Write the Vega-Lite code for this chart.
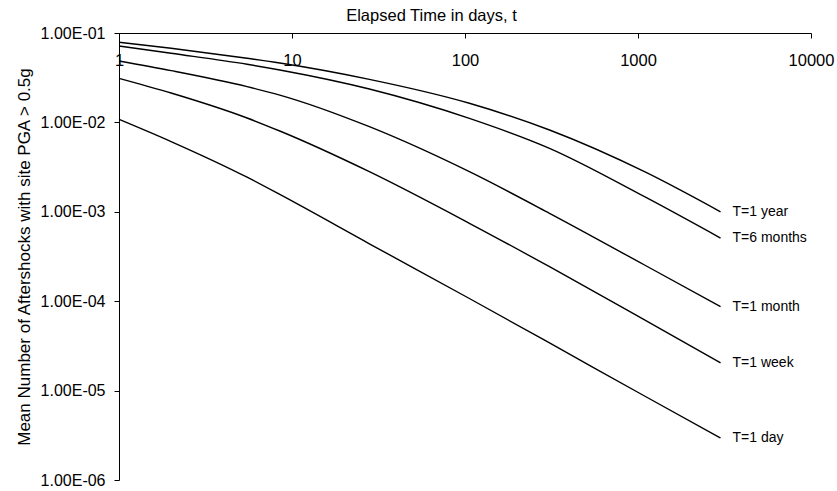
{
  "$schema": "https://vega.github.io/schema/vega-lite/v6.json",
  "width": 692,
  "height": 447,
  "autosize": "none",
  "padding": {"left": 119, "top": 33, "right": 26, "bottom": 11},
  "background": "white",
  "config": {
    "view": {"stroke": null},
    "font": "Liberation Sans",
    "axis": {
      "grid": false,
      "domainColor": "#000000",
      "tickColor": "#000000",
      "labelColor": "#000000",
      "titleColor": "#000000",
      "labelFont": "Liberation Sans",
      "titleFont": "Liberation Sans",
      "titleFontWeight": "normal",
      "domainWidth": 1,
      "tickWidth": 1
    }
  },
  "data": {
    "values": [
      {"series": "T=1 year", "t": 1, "n": 0.0787},
      {"series": "T=1 year", "t": 2, "n": 0.0674},
      {"series": "T=1 year", "t": 5.5, "n": 0.0521},
      {"series": "T=1 year", "t": 8.5, "n": 0.04617},
      {"series": "T=1 year", "t": 28, "n": 0.0303},
      {"series": "T=1 year", "t": 106, "n": 0.01637},
      {"series": "T=1 year", "t": 308, "n": 0.00822},
      {"series": "T=1 year", "t": 1091, "n": 0.00281},
      {"series": "T=1 year", "t": 3000, "n": 0.001},

      {"series": "T=6 months", "t": 1, "n": 0.0716},
      {"series": "T=6 months", "t": 2, "n": 0.0593},
      {"series": "T=6 months", "t": 5.5, "n": 0.0447},
      {"series": "T=6 months", "t": 8.5, "n": 0.0386},
      {"series": "T=6 months", "t": 28, "n": 0.02364},
      {"series": "T=6 months", "t": 106, "n": 0.0111},
      {"series": "T=6 months", "t": 308, "n": 0.00513},
      {"series": "T=6 months", "t": 1091, "n": 0.001476},
      {"series": "T=6 months", "t": 3000, "n": 0.000509},

      {"series": "T=1 month", "t": 1, "n": 0.0486},
      {"series": "T=1 month", "t": 2, "n": 0.0379},
      {"series": "T=1 month", "t": 5.5, "n": 0.0251},
      {"series": "T=1 month", "t": 8.5, "n": 0.0202},
      {"series": "T=1 month", "t": 28, "n": 0.00895},
      {"series": "T=1 month", "t": 106, "n": 0.00281},
      {"series": "T=1 month", "t": 308, "n": 0.000962},
      {"series": "T=1 month", "t": 1091, "n": 0.000254},
      {"series": "T=1 month", "t": 3000, "n": 0.0000868},

      {"series": "T=1 week", "t": 1, "n": 0.0311},
      {"series": "T=1 week", "t": 2, "n": 0.02132},
      {"series": "T=1 week", "t": 5.5, "n": 0.0112},
      {"series": "T=1 week", "t": 8.5, "n": 0.00801},
      {"series": "T=1 week", "t": 28, "n": 0.00281},
      {"series": "T=1 week", "t": 106, "n": 0.000744},
      {"series": "T=1 week", "t": 308, "n": 0.000243},
      {"series": "T=1 week", "t": 1091, "n": 0.0000617},
      {"series": "T=1 week", "t": 3000, "n": 0.0000204},

      {"series": "T=1 day", "t": 1, "n": 0.01083},
      {"series": "T=1 day", "t": 2, "n": 0.00611},
      {"series": "T=1 day", "t": 5.5, "n": 0.002438},
      {"series": "T=1 day", "t": 8.5, "n": 0.001562},
      {"series": "T=1 day", "t": 28, "n": 0.000439},
      {"series": "T=1 day", "t": 106, "n": 0.0001072},
      {"series": "T=1 day", "t": 308, "n": 0.0000341},
      {"series": "T=1 day", "t": 1091, "n": 0.0000087},
      {"series": "T=1 day", "t": 3000, "n": 0.00000295}
    ]
  },
  "encoding": {
    "x": {
      "field": "t",
      "type": "quantitative",
      "scale": {"type": "log", "domain": [1, 10000], "nice": false},
      "axis": {
        "orient": "top",
        "title": "Elapsed Time in days, t",
        "values": [1, 10, 100, 1000, 10000],
        "format": "d",
        "tickSize": -5,
        "labelPadding": -27,
        "labelBaseline": "alphabetic",
        "labelFlush": false,
        "labelOverlap": false,
        "labelBound": false,
        "labelFontSize": 16.5,
        "titleFontSize": 16.5,
        "titleX": 312,
        "titleY": -13,
        "titleAlign": "center",
        "titleBaseline": "alphabetic"
      }
    },
    "y": {
      "field": "n",
      "type": "quantitative",
      "scale": {"type": "log", "domain": [0.000001, 0.1], "nice": false},
      "axis": {
        "title": "Mean Number of Aftershocks with site PGA > 0.5g",
        "values": [0.000001, 0.00001, 0.0001, 0.001, 0.01, 0.1],
        "labelExpr": "'1.00E-0' + round(-log(datum.value) / LN10)",
        "tickSize": 5,
        "labelPadding": 9,
        "labelFlush": false,
        "labelOverlap": false,
        "labelBound": false,
        "labelFontSize": 16,
        "titleFontSize": 17,
        "titleX": -86,
        "titleBaseline": "bottom"
      }
    }
  },
  "layer": [
    {
      "mark": {"type": "line", "interpolate": "monotone", "color": "#000000", "strokeWidth": 1.4},
      "encoding": {"detail": {"field": "series"}}
    },
    {
      "transform": [{"filter": "datum.t == 3000"}],
      "mark": {"type": "text", "align": "left", "baseline": "middle", "dx": 12, "fontSize": 14, "font": "Liberation Sans", "color": "#000000"},
      "encoding": {"text": {"field": "series"}}
    }
  ]
}
